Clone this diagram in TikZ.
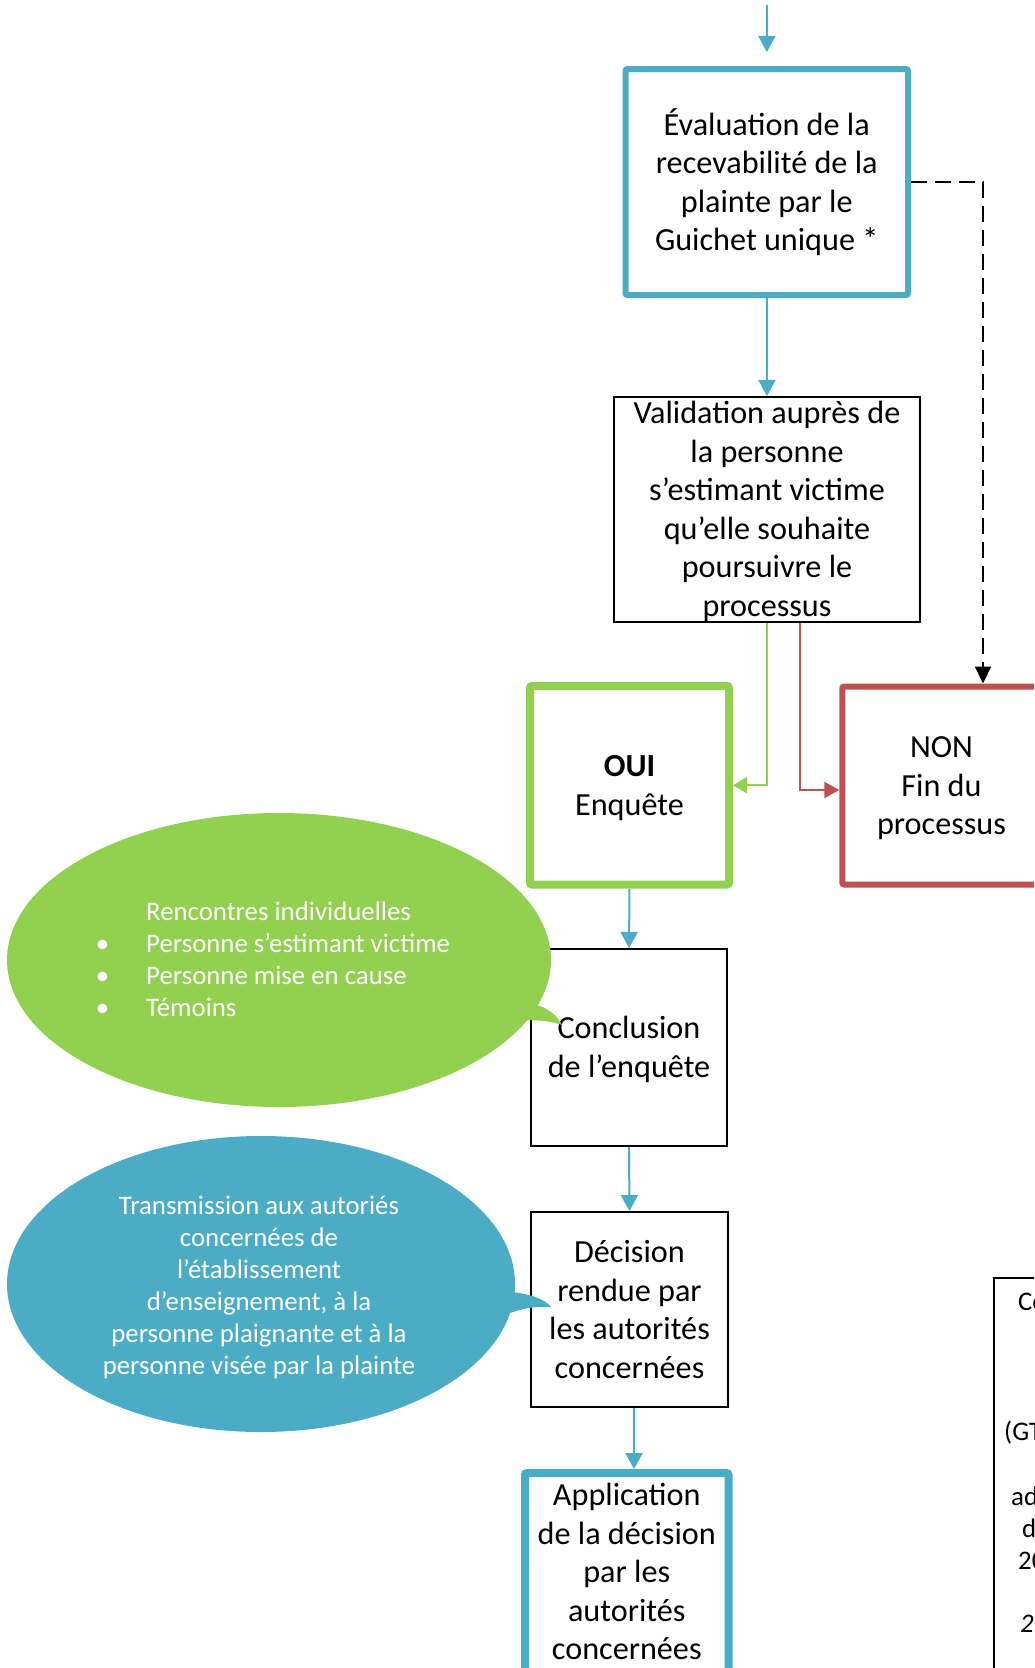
\documentclass[tikz,border=0pt]{standalone}
\usepackage{fontspec}
\setmainfont{Carlito}
\usetikzlibrary{arrows.meta,calc,shapes.geometric}
\definecolor{cteal}{HTML}{4BACC6}
\definecolor{cgreen}{HTML}{92D050}
\definecolor{cred}{HTML}{C0504D}
\begin{document}
\begin{tikzpicture}[x=1pt,y=-1pt,
  mainfont/.style={font=\fontsize{32.2}{38.5}\selectfont},
  bubfont/.style={font=\fontsize{26.8}{32}\selectfont},
  box/.style={draw, line width=2pt, inner sep=0pt},
  thickbox/.style={box, rounded corners=2pt},
  boxtext/.style={mainfont, align=center, inner sep=0pt},
  arr/.style={draw=cteal, line width=2pt, -{Triangle[width=17pt,length=16pt]}},
  yesarr/.style={draw=cgreen, line width=2pt, -{Triangle[width=16pt,length=14pt]}},
  noarr/.style={draw=cred, line width=2pt, -{Triangle[width=16pt,length=15pt]}},
  dasharr/.style={draw=black, line width=2pt, dash pattern=on 16pt off 8pt, -{Triangle[width=16pt,length=17pt]}},
  bubble/.style={ellipse, inner sep=0pt},
  bubtext/.style={text=white, bubfont, inner sep=0pt},
  frag/.style={bubfont, inner sep=0pt, anchor=base west}
]
\clip (0,0) rectangle (1034,1668);

% boxes
\node[thickbox, draw=cteal, line width=6pt, minimum width=282.5pt, minimum height=226pt] (b1) at (766.75,182) {};
\node[boxtext] (t1) at (b1) {Évaluation de la\\recevabilité de la\\plainte par le\\Guichet unique *};
\node[box, minimum width=306pt, minimum height=225pt] (b2) at (767,509.5) {};
\node[boxtext, yshift=-2pt] (t2) at (b2) {Validation auprès de\\la personne\\s’estimant victime\\qu’elle souhaite\\poursuivre le\\processus};
\node[thickbox, draw=cgreen, line width=8pt, minimum width=199pt, minimum height=198.5pt] (oui) at (629.5,785.25) {};
\node[boxtext, yshift=-3pt] (toui) at (oui) {\textbf{OUI}\\Enquête};
\node[thickbox, draw=cred, line width=6pt, minimum width=198.5pt, minimum height=198pt] (non) at (941.5,785.5) {};
\node[boxtext, yshift=-3pt] (tnon) at (non) {NON\\Fin du\\processus};
\node[box, minimum width=196pt, minimum height=197pt] (conc) at (629,1047.5) {};
\node[boxtext, yshift=-2pt] (tconc) at (conc) {Conclusion\\de l’enquête};
\node[box, minimum width=197pt, minimum height=195pt] (dec) at (629.5,1309.5) {};
\node[boxtext] (tdec) at (dec) {Décision\\rendue par\\les autorités\\concernées};
\node[thickbox, draw=cteal, line width=8pt, minimum width=203.5pt, minimum height=202pt] (app) at (626.75,1574) {};
\node[boxtext, yshift=2.5pt] (tapp) at (app) {Application\\de la décision\\par les\\autorités\\concernées};

% partially visible box at bottom right
\node[draw, line width=2pt, minimum width=300pt, minimum height=500pt, anchor=north west, inner sep=0pt] (gt) at (993,1277) {};
\node[frag] (f1) at (1018,1310) {Co};
\node[frag] (f2) at (1004,1440) {(GT};
\node[frag] (f3) at (1011,1505) {ad};
\node[frag] (f4) at (1022,1537) {d};
\node[frag] (f5) at (1018,1569) {20};
\node[frag] (f6) at (1020,1632) {\itshape 2};

% connectors
\coordinate (top) at (767,5);
\draw[arr, shorten >=14pt] (top) -- (b1.north);
\draw[arr] (b1.south) -- (b2.north);
\draw[yesarr] (b2.south) |- (oui.east);
\draw[noarr] ([xshift=33pt]b2.south) |- ([yshift=-4.5pt]non.west);
\draw[dasharr] (b1.east) -| ([xshift=41.5pt]non.north);
\draw[arr] (oui.south) -- (conc.north);
\draw[arr] (conc.south) -- (dec.north);
\draw[arr] ($(dec.south)+(4.5,0)$) -- ($(dec.south |- app.north)+(4.5,0)$);

% green callout
\node[bubble, fill=cgreen, minimum width=544pt, minimum height=294pt] (gbub) at (279,960) {};
\coordinate (gtip) at (562,1025);
\fill[cgreen] (527,1003) .. controls (547,1006) and (556,1014) .. (gtip)
  .. controls (545,1019) and (522,1019) .. (506,1023) -- (480,990) -- cycle;
\node[bubtext, align=left, anchor=west] (gtxt) at (146,959)
  {Rencontres individuelles\\
   \llap{\textbullet\hspace{37pt}}Personne s’estimant victime\\
   \llap{\textbullet\hspace{37pt}}Personne mise en cause\\
   \llap{\textbullet\hspace{37pt}}Témoins};

% blue callout
\node[bubble, fill=cteal, minimum width=508pt, minimum height=296pt] (bbub) at (261,1284) {};
\coordinate (btip) at (551,1307);
\fill[cteal] (512,1292) .. controls (530,1294) and (545,1299) .. (btip)
  .. controls (535,1306) and (520,1308) .. (498,1318) -- (470,1290) -- cycle;
\node[bubtext, align=center] (btxt) at (259,1287)
  {Transmission aux autoriés\\concernées de\\l’établissement\\d’enseignement, à la\\personne plaignante et à la\\personne visée par la plainte};
\end{tikzpicture}
\end{document}
